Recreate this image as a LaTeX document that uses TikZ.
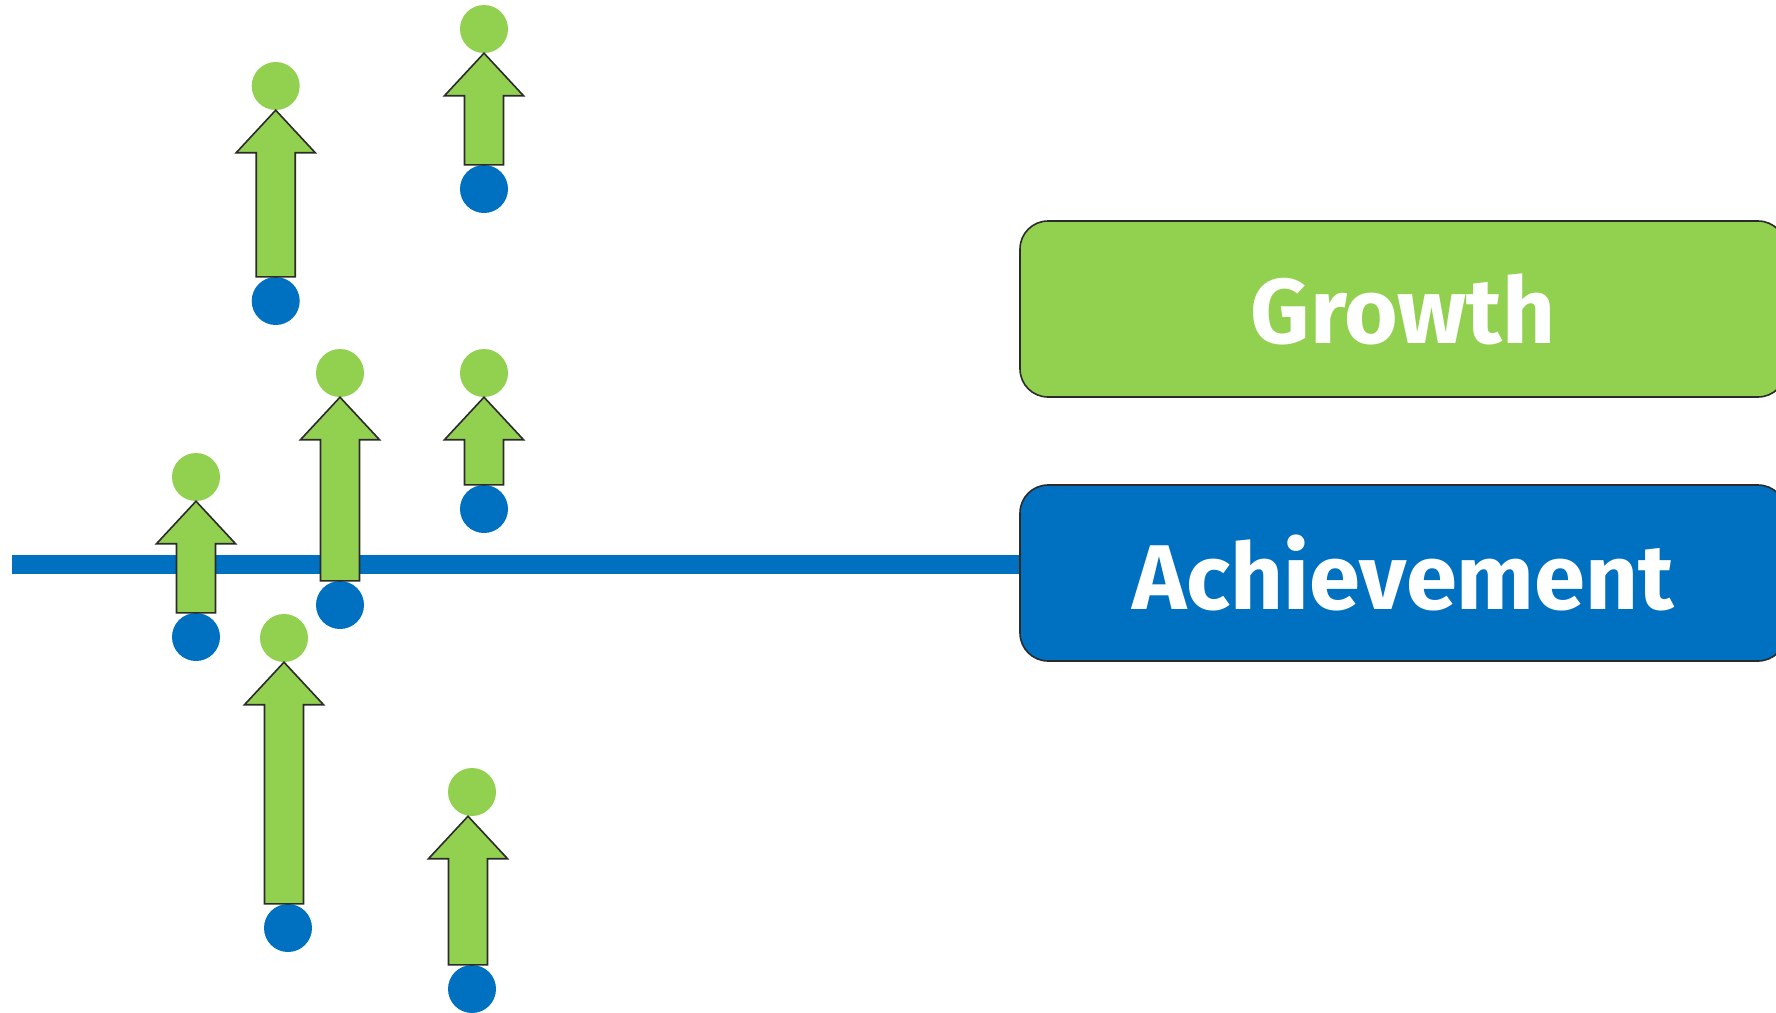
\documentclass[tikz,border=0pt]{standalone}
\usepackage{fontspec}
\setmainfont{Fira Sans}
\usetikzlibrary{calc}
\definecolor{ggreen}{HTML}{92D050}
\definecolor{gblue}{HTML}{0070C0}
\definecolor{gline}{HTML}{2B2B2B}
\tikzset{
 gdot/.style={circle, fill=ggreen, minimum size=48pt, inner sep=0pt, draw=none},
 bdot/.style={circle, fill=gblue, minimum size=48pt, inner sep=0pt, draw=none},
 garrow/.style={fill=ggreen, draw=gline, line width=1.6pt, line join=miter},
 labelbox/.style={rectangle, rounded corners=28pt, draw=gline, line width=1.6pt, minimum width=766pt, minimum height=176pt, text=white, font=\fontsize{92}{92}\selectfont\bfseries, inner sep=0pt},
 axisline/.style={draw=gblue, line width=19pt},
}
% #1 blue node, #2 green node, #3 horizontal offset of the arrow axis
\newcommand\grarrow[3]{%
 \draw[garrow] let \p1=(#1.north), \p2=(#2.south) in
 (\x2+#3,\y2) -- (\x2+#3+39.5pt,\y2-42.5pt) -- (\x2+#3+19.5pt,\y2-42.5pt) -- (\x2+#3+19.5pt,\y1) -- (\x2+#3-19.5pt,\y1) -- (\x2+#3-19.5pt,\y2-42.5pt) -- (\x2+#3-39.5pt,\y2-42.5pt) -- cycle;}
\begin{document}
\begin{tikzpicture}[x=1pt,y=-1pt]
\useasboundingbox (0,0) rectangle (1776,1012);
\clip (0,0) rectangle (1776,1012);
\coordinate (lstart) at (12,564.5);
\node[labelbox, fill=ggreen] (growth) at (1403,309) {Growth};
\node[labelbox, fill=gblue] (ach) at (1403,573) {Achievement};
\draw[axisline] (lstart) -- (lstart -| ach.west);
% circles
\node[gdot] (gA) at (275.7,86) {};
\node[bdot] (bA) at (275.7,301) {};
\node[gdot] (gB) at (484,29) {};
\node[bdot] (bB) at (484,189) {};
\node[gdot] (gC) at (196,477) {};
\node[bdot] (bC) at (196,637) {};
\node[gdot] (gD) at (340,373) {};
\node[bdot] (bD) at (340,605) {};
\node[gdot] (gE) at (484,373) {};
\node[bdot] (bE) at (484,509) {};
\node[gdot] (gF) at (284,638) {};
\node[bdot] (bF) at (288,928) {};
\node[gdot] (gG) at (472,792) {};
\node[bdot] (bG) at (472,989) {};
% arrows
\grarrow{bA}{gA}{0pt}
\grarrow{bB}{gB}{0pt}
\grarrow{bC}{gC}{0pt}
\grarrow{bD}{gD}{0pt}
\grarrow{bE}{gE}{0pt}
\grarrow{bF}{gF}{0pt}
\grarrow{bG}{gG}{-4pt}
\end{tikzpicture}
\end{document}
